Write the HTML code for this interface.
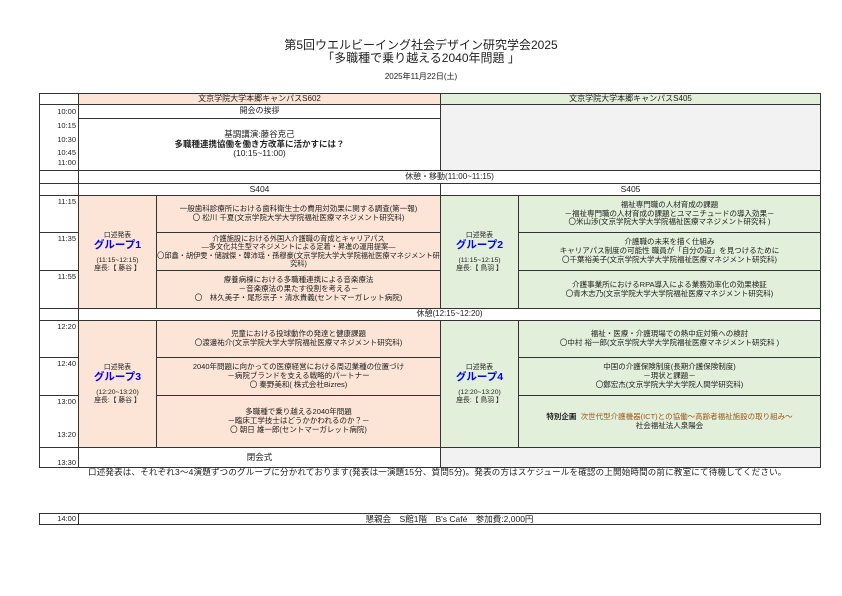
<!DOCTYPE html>
<html><head><meta charset="utf-8"><style>
*{margin:0;padding:0;box-sizing:border-box}
body{width:842px;height:596px;background:#fff;position:relative;font-family:"Liberation Sans","Noto Sans CJK JP",sans-serif;color:#222;overflow:hidden}
.a{position:absolute}
.b{position:absolute;border:1px solid #333;display:flex;flex-direction:column;justify-content:center;align-items:center;text-align:center;font-size:7.5px;line-height:8.8px;white-space:nowrap}
.p{background:#fce4d6}.g{background:#e2efda}.gr{background:#f2f2f2}
.t{position:absolute;font-size:7.5px;text-align:right;width:37px;left:39px}
.blue{color:#0000ff;font-size:10.5px;line-height:12px;font-weight:bold}
.gc{font-size:6.8px;line-height:7.6px}
</style></head><body>
<div class="a" style="left:0;width:842px;top:39px;text-align:center;font-size:12px;line-height:12.5px">第5回ウエルビーイング社会デザイン研究学会2025<br>「多職種で乗り越える2040年問題 」</div>
<div class="a" style="left:0;width:842px;top:71px;text-align:center;font-size:8px">2025年11月22日(土)</div>

<div class="a" style="left:39px;top:93px;width:782px;height:375px;border:1.3px solid #222"></div>
<div class="b" style="left:39px;top:93px;width:40px;height:12px;background:#fff"></div>
<div class="b p" style="left:78px;top:93px;width:363px;height:12px;font-size:8px">文京学院大学本郷キャンパスS602</div>
<div class="b g" style="left:440px;top:93px;width:381px;height:12px;font-size:8px">文京学院大学本郷キャンパスS405</div>
<div class="b" style="left:39px;top:104px;width:40px;height:67px"></div>
<div class="b" style="left:78px;top:104px;width:363px;height:15px;font-size:8px">開会の挨拶</div>
<div class="b" style="left:78px;top:118px;width:363px;height:53px;font-size:8.5px;line-height:9.5px"><span>基調講演:藤谷克己<br><b>多職種連携協働を働き方改革に活かすには？</b><br>(10:15~11:00)</span></div>
<div class="b gr" style="left:440px;top:104px;width:381px;height:67px"></div>
<div class="t" style="top:107px">10:00</div><div class="t" style="top:121px">10:15</div><div class="t" style="top:135px">10:30</div><div class="t" style="top:148px">10:45</div><div class="t" style="top:158px">11:00</div>

<div class="b" style="left:39px;top:170px;width:40px;height:14px"></div>
<div class="b" style="left:78px;top:170px;width:743px;height:14px;font-size:8px">休憩・移動(11:00~11:15)</div>
<div class="b" style="left:39px;top:183px;width:40px;height:13px"></div>
<div class="b" style="left:78px;top:183px;width:363px;height:13px;font-size:8.5px">S404</div>
<div class="b" style="left:440px;top:183px;width:381px;height:13px;font-size:8.5px">S405</div>

<div class="b" style="left:39px;top:195px;width:40px;height:38px"></div>
<div class="b" style="left:39px;top:232px;width:40px;height:39px"></div>
<div class="b" style="left:39px;top:270px;width:40px;height:39px"></div>
<div class="t" style="top:197px">11:15</div><div class="t" style="top:234px">11:35</div><div class="t" style="top:272px">11:55</div>
<div class="b p gc" style="left:78px;top:195px;width:79px;height:114px"><span>口述発表<div class="blue">グループ1</div><div style="height:6px"></div>(11:15~12:15)<br>座長:【 藤谷 】</span></div>
<div class="b p" style="left:156px;top:195px;width:285px;height:38px"><span>一般歯科診療所における歯科衛生士の費用対効果に関する調査(第一報)<br>〇 松川 千夏(文京学院大学大学院福祉医療マネジメント研究科)</span></div>
<div class="b p" style="left:156px;top:232px;width:285px;height:39px;font-size:7.2px;line-height:8.5px"><span>介護施設における外国人介護職の育成とキャリアパス<br>―多文化共生型マネジメントによる定着・昇進の運用提案―<br>〇邱鑫・胡伊雯・储誠傑・韓沛瑶・孫穆豪(文京学院大学大学院福祉医療マネジメント研<br>究科)</span></div>
<div class="b p" style="left:156px;top:270px;width:285px;height:39px"><span>療養病棟における多職種連携による音楽療法<br>－音楽療法の果たす役割を考える－<br>〇　林久美子・尾形京子・清水貴義(セントマーガレット病院)</span></div>
<div class="b g gc" style="left:440px;top:195px;width:79px;height:114px"><span>口述発表<div class="blue">グループ2</div><div style="height:6px"></div>(11:15~12:15)<br>座長:【 鳥羽 】</span></div>
<div class="b g" style="left:518px;top:195px;width:303px;height:38px"><span>福祉専門職の人材育成の課題<br>－福祉専門職の人材育成の課題とユマニチュードの導入効果－<br>〇米山渉(文京学院大学大学院福祉医療マネジメント研究科 )</span></div>
<div class="b g" style="left:518px;top:232px;width:303px;height:39px"><span>介護職の未来を描く仕組み<br>キャリアパス制度の可能性 職員が「自分の道」を見つけるために<br>〇千葉裕美子(文京学院大学大学院福祉医療マネジメント研究科)</span></div>
<div class="b g" style="left:518px;top:270px;width:303px;height:39px"><span>介護事業所におけるRPA導入による業務効率化の効果検証<br>〇青木志乃(文京学院大学大学院福祉医療マネジメント研究科)</span></div>

<div class="b" style="left:39px;top:308px;width:40px;height:13px"></div>
<div class="b" style="left:78px;top:308px;width:743px;height:13px;font-size:8px">休憩(12:15~12:20)</div>

<div class="b" style="left:39px;top:320px;width:40px;height:38px"></div>
<div class="b" style="left:39px;top:357px;width:40px;height:39px"></div>
<div class="b" style="left:39px;top:395px;width:40px;height:53px"></div>
<div class="b" style="left:39px;top:447px;width:40px;height:21px"></div>
<div class="t" style="top:322px">12:20</div><div class="t" style="top:359px">12:40</div><div class="t" style="top:397px">13:00</div><div class="t" style="top:430px">13:20</div><div class="t" style="top:458px">13:30</div>
<div class="b p gc" style="left:78px;top:320px;width:79px;height:128px"><span>口述発表<div class="blue">グループ3</div><div style="height:6px"></div>(12:20~13:20)<br>座長:【 藤谷 】</span></div>
<div class="b p" style="left:156px;top:320px;width:285px;height:38px"><span>児童における投球動作の発達と健康課題<br>〇渡邊祐介(文京学院大学大学院福祉医療マネジメント研究科)</span></div>
<div class="b p" style="left:156px;top:357px;width:285px;height:39px"><span>2040年問題に向かっての医療経営における周辺業種の位置づけ<br>－病院ブランドを支える戦略的パートナー<br>〇 秦野美和( 株式会社Bizres)</span></div>
<div class="b p" style="left:156px;top:395px;width:285px;height:53px"><span>多職種で乗り越える2040年問題<br>－臨床工学技士はどうかかわれるのか？－<br>〇 朝日 雄一郎(セントマーガレット病院)</span></div>
<div class="b g gc" style="left:440px;top:320px;width:79px;height:128px"><span>口述発表<div class="blue">グループ4</div><div style="height:6px"></div>(12:20~13:20)<br>座長:【 鳥羽 】</span></div>
<div class="b g" style="left:518px;top:320px;width:303px;height:38px"><span>福祉・医療・介護現場での熱中症対策への検討<br>〇中村 裕一郎(文京学院大学大学院福祉医療マネジメント研究科 )</span></div>
<div class="b g" style="left:518px;top:357px;width:303px;height:39px"><span>中国の介護保険制度(長期介護保険制度)<br>－現状と課題－<br>〇鄭宏杰(文京学院大学大学院人間学研究科)</span></div>
<div class="b g" style="left:518px;top:395px;width:303px;height:53px"><span><b>特別企画</b>&nbsp; <span style="color:#9c5a1e">次世代型介護機器(ICT)との協働～高齢者福祉施設の取り組み～</span><br>社会福祉法人泉陽会</span></div>
<div class="b" style="left:78px;top:447px;width:363px;height:21px;font-size:8.5px">閉会式</div>
<div class="b gr" style="left:440px;top:447px;width:381px;height:21px"></div>
<div class="a" style="left:88px;top:466px;font-size:8.5px;white-space:nowrap;letter-spacing:0.2px">口述発表は、それぞれ3～4演題ずつのグループに分かれております(発表は一演題15分、質問5分)。発表の方はスケジュールを確認の上開始時間の前に教室にて待機してください。</div>

<div class="b" style="left:39px;top:513px;width:40px;height:12px;border-width:1.3px;align-items:flex-end;font-size:7.5px;padding-right:2px">14:00</div>
<div class="b" style="left:78px;top:513px;width:743px;height:12px;border-width:1.3px;font-size:8.5px">懇親会　S館1階　B's Café　参加費:2,000円</div>
</body></html>
